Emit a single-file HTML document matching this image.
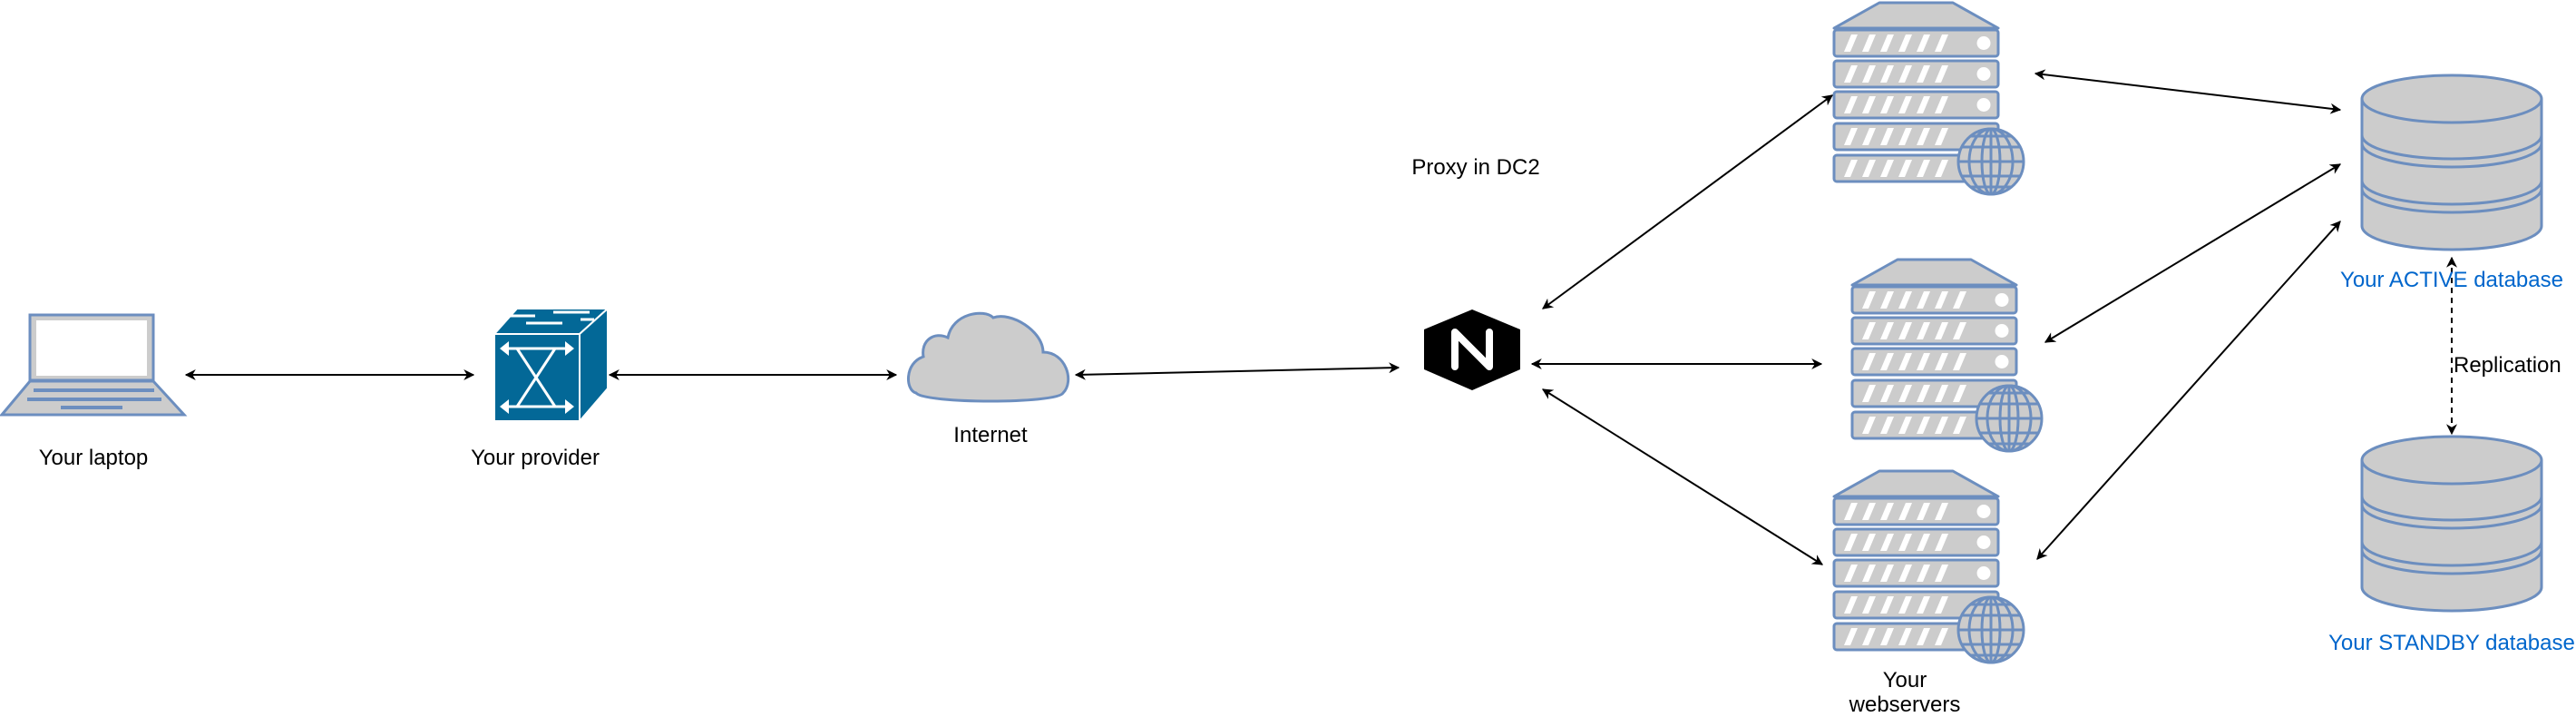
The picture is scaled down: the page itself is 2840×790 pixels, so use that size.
<!DOCTYPE html>
<html><head><meta charset="utf-8">
<style>
html,body{margin:0;padding:0;background:#fff;}
body{width:2840px;height:790px;overflow:hidden;position:relative;font-family:"Liberation Sans",Arial,sans-serif;}
</style></head>
<body>
<svg width="2840" height="790" viewBox="0 0 2840 790" xmlns="http://www.w3.org/2000/svg" style="position:absolute;left:0;top:0">
<defs>
<marker id="ah" viewBox="0 0 10 10" refX="9" refY="5" markerWidth="12" markerHeight="12" markerUnits="userSpaceOnUse" orient="auto-start-reverse">
<path d="M0,0 L10,5 L0,10 L3,5 z" fill="#000"/>
</marker>
<g id="row">
<rect x="2" y="0" width="181" height="29" rx="3" fill="#ccc" stroke="#6c8ebf" stroke-width="3"/>
<g fill="#fff">
<polygon points="13,24 20,24 28,5 21,5"/>
<polygon points="33,24 40,24 48,5 41,5"/>
<polygon points="53,24 60,24 68,5 61,5"/>
<polygon points="73,24 80,24 88,5 81,5"/>
<polygon points="93,24 100,24 108,5 101,5"/>
<polygon points="113,24 120,24 128,5 121,5"/>
</g>
<circle cx="167" cy="14.5" r="7.5" fill="#fff"/>
</g>
<g id="server">
<polygon points="52,3 133,3 183,31 2,31" fill="#ccc" stroke="#6c8ebf" stroke-width="3" stroke-linejoin="round"/>
<use href="#row" y="33"/>
<use href="#row" y="67"/>
<use href="#row" y="101"/>
<use href="#row" y="136"/>
<use href="#row" y="171"/>
<g transform="translate(175,178)" fill="none" stroke="#6c8ebf" stroke-width="3">
<circle r="36" fill="#ccc"/>
<ellipse rx="24" ry="36"/>
<ellipse rx="10" ry="36"/>
<line x1="0" y1="-36" x2="0" y2="36"/>
<line x1="-36" y1="0" x2="36" y2="0"/>
<line x1="-32" y1="-16" x2="32" y2="-16"/>
<line x1="-32" y1="16" x2="32" y2="16"/>
<line x1="-23" y1="-28" x2="23" y2="-28"/>
<line x1="-23" y1="28" x2="23" y2="28"/>
</g>
</g>
<g id="db">
<path d="M2,28 A99,26 0 0 1 200,28 L200,168 A99,26 0 0 1 2,168 Z" fill="#ccc" stroke="#6c8ebf" stroke-width="3"/>
<path d="M2,28 A99,26 0 0 0 200,28" fill="none" stroke="#6c8ebf" stroke-width="3"/>
<path d="M2,68 A99,26 0 0 0 200,68" fill="none" stroke="#6c8ebf" stroke-width="3"/>
<path d="M2,77 A99,26 0 0 0 200,77" fill="none" stroke="#6c8ebf" stroke-width="3"/>
<path d="M2,118 A99,26 0 0 0 200,118" fill="none" stroke="#6c8ebf" stroke-width="3"/>
<path d="M2,127 A99,26 0 0 0 200,127" fill="none" stroke="#6c8ebf" stroke-width="3"/>
</g>
</defs>

<!-- laptop -->
<g stroke="#6c8ebf" stroke-width="3">
<rect x="33" y="347" width="136" height="72" fill="#ccc"/>
<rect x="40" y="353" width="122" height="61" fill="#fff" stroke="none"/>
<polygon points="33,420 169,420 203,457 2,457" fill="#ccc"/>
</g>
<g fill="#6c8ebf">
<rect x="37" y="428" width="133" height="4"/>
<rect x="30" y="438" width="148" height="4"/>
<rect x="67" y="447" width="68" height="4"/>
</g>

<!-- switch -->
<polygon points="545,368 570,340 670,340 639,368" fill="#036897" stroke="#fff" stroke-width="2"/>
<polygon points="639,368 670,340 670,428 639,464" fill="#036897" stroke="#fff" stroke-width="2"/>
<rect x="545" y="368" width="94" height="96" fill="#036897" stroke="#fff" stroke-width="2"/>
<g stroke="#fff" stroke-width="3" fill="none">
<path d="M560,348 L590,348 M610,344 L650,344 M580,356 L620,356 M640,352 L655,352"/>
<path d="M555,384 L628,384 M555,448 L628,448 M570,384 L612,448 M612,384 L570,448"/>
</g>
<g fill="#fff">
<polygon points="551,384 561,376 561,392"/><polygon points="633,384 623,376 623,392"/>
<polygon points="551,448 561,440 561,456"/><polygon points="633,448 623,440 623,456"/>
</g>

<!-- cloud -->
<path d="M1010,433 C998,430 997,400 1018,393 C1015,375 1030,365 1045,372 C1050,345 1085,340 1095,350 C1115,343 1150,365 1150,388 C1175,388 1185,420 1172,433 C1165,445 1020,445 1010,433 Z" fill="#ccc" stroke="#6c8ebf" stroke-width="3"/>

<!-- nginx -->
<polygon points="1623,341 1676,363 1676,407 1623,430 1570,407 1570,363" fill="#000"/>
<path d="M1604,404 L1604,366 L1642,404 L1642,366" fill="none" stroke="#fff" stroke-width="8" stroke-linecap="round" stroke-linejoin="round"/>

<!-- servers -->
<use href="#server" x="2020" y="0"/>
<use href="#server" x="2040" y="283"/>
<use href="#server" x="2020" y="516"/>

<!-- dbs -->
<use href="#db" x="2602" y="81"/>
<use href="#db" x="2602" y="479"/>

<!-- connectors -->
<g stroke="#000" stroke-width="2" fill="none" marker-start="url(#ah)" marker-end="url(#ah)">
<line x1="205" y1="413" x2="522" y2="413"/>
<line x1="672" y1="413" x2="988" y2="413"/>
<line x1="1186" y1="413" x2="1542" y2="405"/>
<line x1="1701" y1="340" x2="2020" y2="105"/>
<line x1="1689" y1="401" x2="2008" y2="401"/>
<line x1="1701" y1="429" x2="2009" y2="622"/>
<line x1="2244" y1="81" x2="2580" y2="121"/>
<line x1="2255" y1="377" x2="2580" y2="181"/>
<line x1="2246" y1="616" x2="2580" y2="244"/>
<line x1="2703" y1="284" x2="2703" y2="478" stroke-dasharray="6,5"/>
</g>

<g font-family="Liberation Sans, Arial, sans-serif" font-size="24" fill="#000" text-anchor="middle">
<text x="103" y="512">Your laptop</text>
<text x="590" y="512">Your provider</text>
<text x="1092" y="487">Internet</text>
<text x="1627" y="192">Proxy in DC2</text>
<text x="2100" y="757">Your</text>
<text x="2100" y="784">webservers</text>
<text x="2705" y="410" text-anchor="start">Replication</text>
<text x="2703" y="316" fill="#0066cc">Your ACTIVE database</text>
<text x="2703" y="716" fill="#0066cc">Your STANDBY database</text>
</g>
</svg>
</body></html>
